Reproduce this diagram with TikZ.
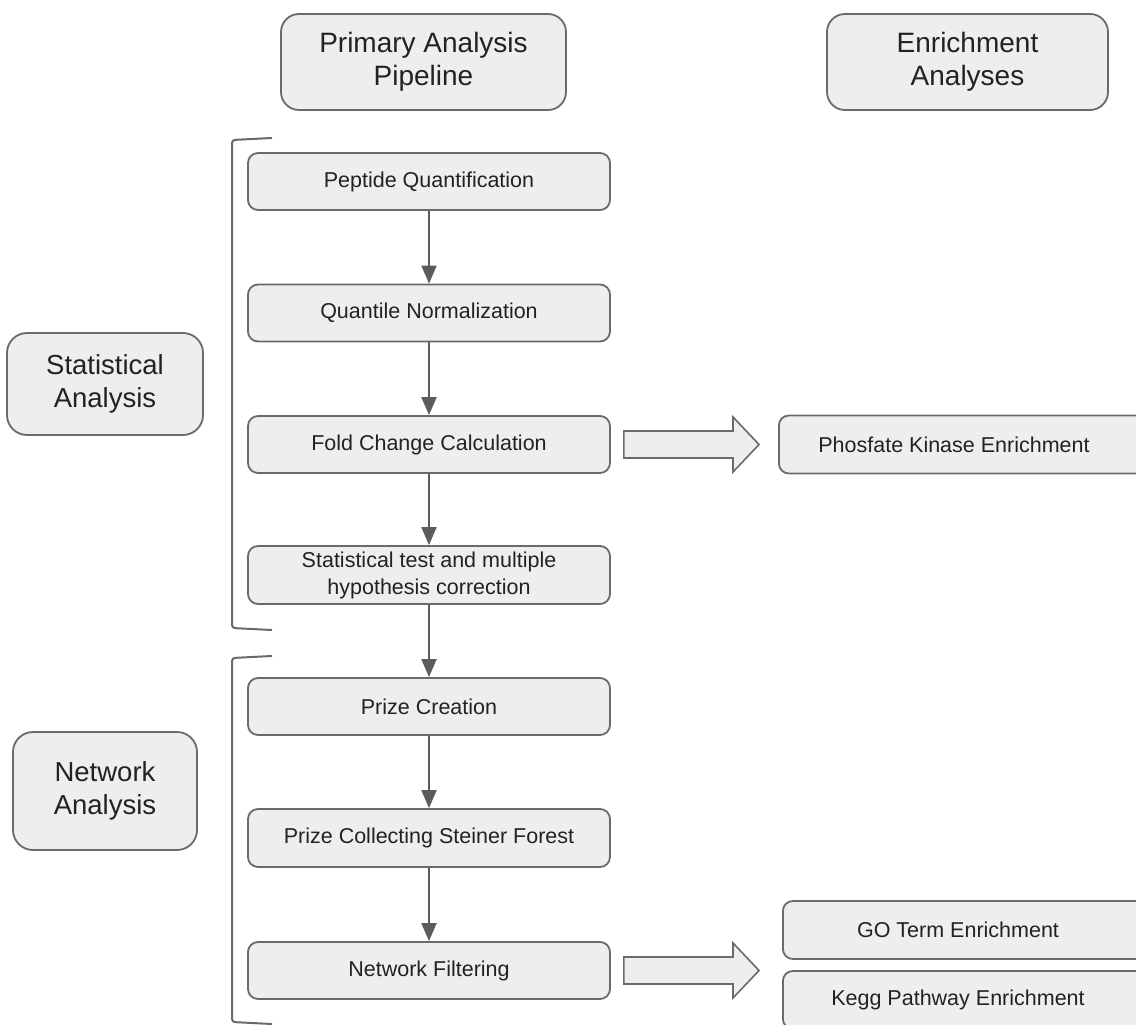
\documentclass[tikz,border=0pt]{standalone}
\usepackage{fontspec}
\setmainfont{Liberation Sans}
\usetikzlibrary{arrows.meta,calc}
\definecolor{bfill}{HTML}{EEEEEE}
\definecolor{bline}{HTML}{6A6A6A}
\definecolor{aline}{HTML}{5C5C5C}
\definecolor{txt}{HTML}{222222}
\begin{document}
\begin{tikzpicture}[x=1pt,y=-1pt,
  box/.style={draw=bline, fill=bfill, line width=1.8pt, rounded corners=10pt,
    minimum width=362pt, minimum height=57pt, inner sep=0pt,
    font=\fontsize{21.5}{27}\selectfont, text=txt, align=center},
  rbox/.style={draw=bline, fill=bfill, line width=1.8pt, rounded corners=10pt,
    minimum width=380pt, minimum height=58pt, inner sep=0pt, anchor=west},
  rtext/.style={font=\fontsize{21.5}{27}\selectfont, text=txt, inner sep=0pt},
  head/.style={draw=bline, fill=bfill, line width=1.8pt, rounded corners=18pt,
    minimum width=285pt, minimum height=96pt, inner sep=0pt,
    font=\fontsize{28}{33}\selectfont, text=txt, align=center},
  side/.style={draw=bline, fill=bfill, line width=1.8pt, rounded corners=20pt,
    inner sep=0pt, font=\fontsize{27.5}{33}\selectfont, text=txt, align=center},
  flow/.style={draw=aline, line width=2pt, -{Triangle[width=15pt,length=18pt]}},
  blockarrow/.style={draw=bline, fill=bfill, line width=1.6pt, line join=miter},
  bracket/.style={draw=bline, line width=2pt}
]
\useasboundingbox (0,0) rectangle (1136,1025);
\clip (0,0) rectangle (1136,1025);

% headers
\node[head] (hprim) at (423.5,62) {Primary Analysis\\Pipeline};
\node[head, minimum width=281pt] (henr) at (967.5,62) {Enrichment\\Analyses};

% side labels
\node[side, minimum width=196pt, minimum height=102pt] (stat) at (105,384) {Statistical\\Analysis};
\node[side, minimum width=184pt, minimum height=118pt] (net) at (105,791) {Network\\Analysis};

% main pipeline
\node[box] (pq) at (429,181.5) {Peptide Quantification};
\node[box] (qn) at (429,313) {Quantile Normalization};
\node[box] (fc) at (429,444.5) {Fold Change Calculation};
\node[box, minimum height=58pt] (st) at (429,575) {Statistical test and multiple\\hypothesis correction};
\node[box] (pc) at (429,706.5) {Prize Creation};
\node[box, minimum height=58pt] (pcsf) at (429,838) {Prize Collecting Steiner Forest};
\node[box] (nf) at (429,970.5) {Network Filtering};

% enrichment boxes
\node[rbox] (phos) at (778,444.5) {};
\node[rtext] (phosT) at (954,444.5) {Phosfate Kinase Enrichment};
\node[rbox] (go) at (782,930) {};
\node[rtext] (goT) at (958,930) {GO Term Enrichment};
\node[rbox] (kegg) at (782,1000) {};
\node[rtext] (keggT) at (958,1000) {Kegg Pathway Enrichment};

% flow arrows
\draw[flow] (pq) -- (qn);
\draw[flow] (qn) -- (fc);
\draw[flow] (fc) -- (st);
\draw[flow] (st) -- (pc);
\draw[flow] (pc) -- (pcsf);
\draw[flow] (pcsf) -- (nf);

% block arrows
\coordinate (b1s) at ($(fc.east)+(13,0)$);
\coordinate (b1e) at ($(phos.west)+(-19,0)$);
\draw[blockarrow] ($(b1s)+(0,-13.5)$) -- ($(b1e)+(-26,-13.5)$) -- ($(b1e)+(-26,-27.5)$)
  -- (b1e) -- ($(b1e)+(-26,27.5)$) -- ($(b1e)+(-26,13.5)$) -- ($(b1s)+(0,13.5)$) -- cycle;
\coordinate (b2s) at ($(nf.east)+(13,0)$);
\coordinate (b2e) at ($(nf.east -| go.west)+(-23,0)$);
\draw[blockarrow] ($(b2s)+(0,-13.5)$) -- ($(b2e)+(-26,-13.5)$) -- ($(b2e)+(-26,-27.5)$)
  -- (b2e) -- ($(b2e)+(-26,27.5)$) -- ($(b2e)+(-26,13.5)$) -- ($(b2s)+(0,13.5)$) -- cycle;

% brackets
\draw[bracket, rounded corners=3pt] (272,138) -- (232,140) -- (232,628) -- (272,630);
\draw[bracket, rounded corners=3pt] (272,656) -- (232,658) -- (232,1022) -- (272,1024);
\end{tikzpicture}
\end{document}
